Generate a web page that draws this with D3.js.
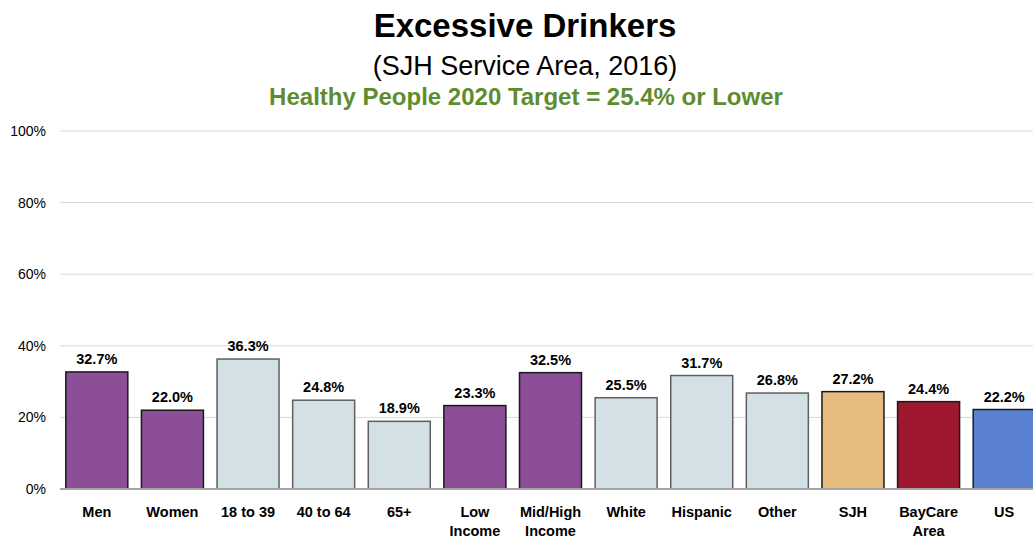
<!DOCTYPE html>
<html><head><meta charset="utf-8">
<script src="https://cdn.jsdelivr.net/npm/d3@7"></script>
<style>body{margin:0;background:#fff;} svg{display:block;font-family:"Liberation Sans",Arial,sans-serif;}</style>
</head><body><svg id="c" width="1033" height="539"></svg>
<script>
const categories = ["Men","Women","18 to 39","40 to 64","65+","Low Income","Mid/High Income","White","Hispanic","Other","SJH","BayCare Area","US"];
const labelLines = [["Men"],["Women"],["18 to 39"],["40 to 64"],["65+"],["Low","Income"],["Mid/High","Income"],["White"],["Hispanic"],["Other"],["SJH"],["BayCare","Area"],["US"]];
const values = [32.7,22.0,36.3,24.8,18.9,23.3,32.5,25.5,31.7,26.8,27.2,24.4,22.2];
const groups = ["gender","gender","age","age","age","income","income","race","race","race","sjh","baycare","us"];
const yTicks = [0,20,40,60,80,100];
const title = "Excessive Drinkers";
const subtitle = "(SJH Service Area, 2016)";
const target = "Healthy People 2020 Target = 25.4% or Lower";

const fills = {gender:"#8C4E97",income:"#8C4E97",age:"#D3E0E5",race:"#D3E0E5",sjh:"#E5BC7E",baycare:"#A0182F",us:"#5A82D0"};
const strokes = {gender:"#1a1a1a",income:"#1a1a1a",age:"#5f5f5f",race:"#5f5f5f",sjh:"#1a1a1a",baycare:"#1a1a1a",us:"#1a1a1a"};

const svg = d3.select("#c");
const x = d3.scaleBand().domain(categories).range([59,1042]).paddingInner(0.18).paddingOuter(0.09);
const y = d3.scaleLinear().domain([0,100]).range([489,131]);

svg.append("text").attr("x",525).attr("y",37).attr("text-anchor","middle").attr("font-size",33).attr("font-weight","bold").attr("fill","#000").text(title);
svg.append("text").attr("x",525).attr("y",75).attr("text-anchor","middle").attr("font-size",27).attr("fill","#000").text(subtitle);
svg.append("text").attr("x",526).attr("y",105).attr("text-anchor","middle").attr("font-size",24).attr("font-weight","bold").attr("fill","#5E8C2F").text(target);

// gridlines
svg.append("g").selectAll("line").data(yTicks.filter(d=>d>0)).join("line")
  .attr("x1",60).attr("x2",1033).attr("y1",d=>y(d)).attr("y2",d=>y(d))
  .attr("stroke","#d9d9d9").attr("stroke-width",1);

// y axis
const yAxis = d3.axisLeft(y).tickValues(yTicks).tickFormat(d=>d+"%").tickSize(0).tickPadding(0);
const ya = svg.append("g").attr("transform","translate(46,0)").call(yAxis);
ya.select(".domain").remove();
ya.selectAll("text").attr("font-size",14).attr("fill","#000").attr("font-family","Liberation Sans, Arial, sans-serif");

// bars
svg.append("g").selectAll("rect").data(values).join("rect")
  .attr("x",(d,i)=>x(categories[i])).attr("width",x.bandwidth())
  .attr("y",d=>y(d)).attr("height",d=>y(0)-y(d))
  .attr("fill",(d,i)=>fills[groups[i]]).attr("stroke",(d,i)=>strokes[groups[i]]).attr("stroke-width",1.5);

// baseline
svg.append("line").attr("x1",60).attr("x2",1033).attr("y1",y(0)).attr("y2",y(0)).attr("stroke","#a6a6a6").attr("stroke-width",2);

// value labels
svg.append("g").selectAll("text").data(values).join("text")
  .attr("x",(d,i)=>x(categories[i])+x.bandwidth()/2).attr("y",d=>y(d)-8)
  .attr("text-anchor","middle").attr("font-size",14.5).attr("font-weight","bold").attr("fill","#000")
  .text(d=>d.toFixed(1)+"%");

// category labels
const cl = svg.append("g").selectAll("text").data(categories).join("text")
  .attr("x",d=>x(d)+x.bandwidth()/2).attr("y",517)
  .attr("text-anchor","middle").attr("font-size",14.5).attr("font-weight","bold").attr("fill","#000");
cl.each(function(d,i){
  const t = d3.select(this);
  labelLines[i].forEach((ln,j)=>t.append("tspan").attr("x",x(d)+x.bandwidth()/2).attr("dy",j===0?0:19).text(ln));
});
</script></body></html>
